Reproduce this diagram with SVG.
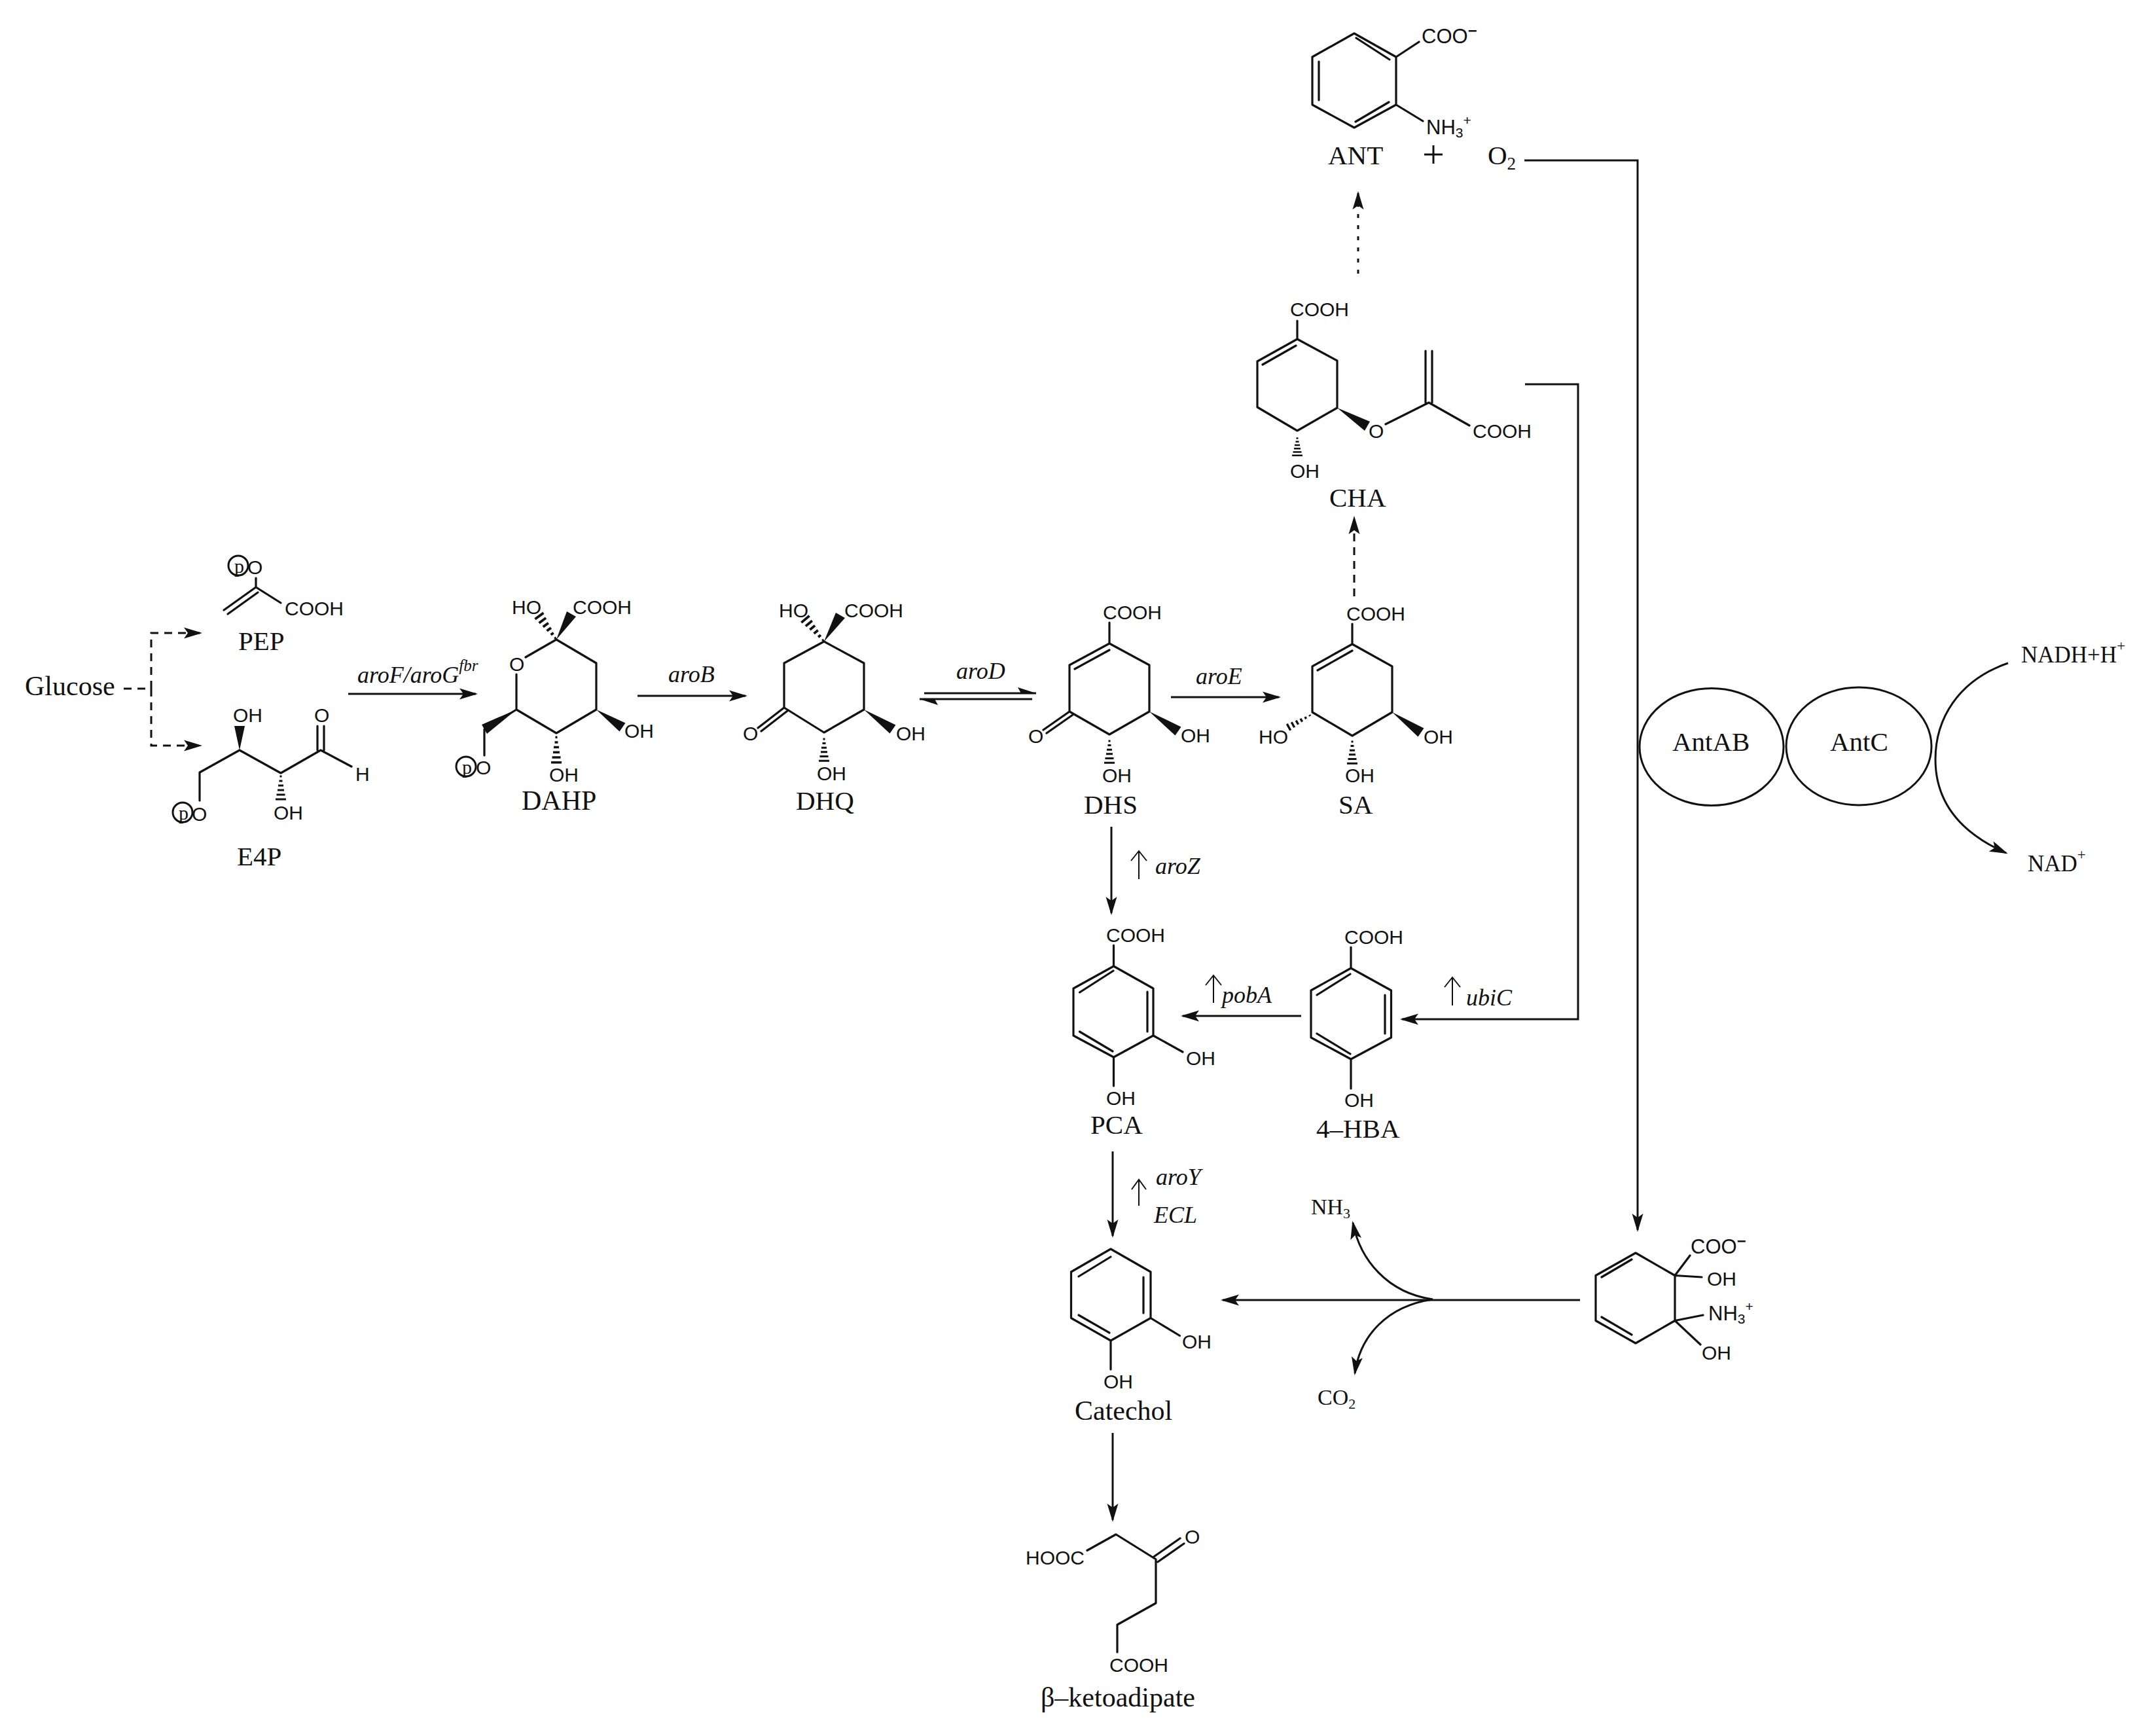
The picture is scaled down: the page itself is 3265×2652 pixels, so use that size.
<svg xmlns="http://www.w3.org/2000/svg" xmlns:xlink="http://www.w3.org/1999/xlink" width="3265" height="2652" viewBox="0 0 3265 2652">
<style>
text{fill:#111}
.c{font:30px "Liberation Sans",Arial,sans-serif}
.l{font:41px "Liberation Serif","Times New Roman",serif}
.m{font:34px "Liberation Serif","Times New Roman",serif}
.n{font:35px "Liberation Serif","Times New Roman",serif}
.e{font:italic 36px "Liberation Serif","Times New Roman",serif}
.p{font:30px "Liberation Serif","Times New Roman",serif}
.b{fill:none;stroke:#111;stroke-width:3.2;stroke-linecap:round;stroke-linejoin:round}
.w{fill:#111;stroke:none}
.a{fill:none;stroke:#111;stroke-width:3}
.d{stroke-dasharray:12 9}
.o{stroke-dasharray:6 11}
.u{fill:none;stroke:#111;stroke-width:2}
.r{fill:none;stroke:#111;stroke-width:3}
</style>
<defs>
<marker id="h" markerUnits="userSpaceOnUse" markerWidth="30" markerHeight="20" refX="25" refY="10" orient="auto"><path d="M28,10 L0,1.5 L6,10 L0,18.5 Z" fill="#111"/></marker>
<g id="hash" stroke="#111" stroke-width="3.2" fill="none"><path d="M-1.5,2H1.5M-2.5,9H2.5M-4,16H4M-5,23H5M-6.5,30H6.5M-8,37H8"/></g>
</defs>
<rect width="3265" height="2652" fill="#fff"/>

<g id="connectors">
<path class="a d" d="M189,1052H231M231,1052V967H306" marker-end="url(#h)"/>
<path class="a d" d="M231,1052V1139H306" marker-end="url(#h)"/>
<path class="a" d="M532,1060H727" marker-end="url(#h)"/>
<path class="a" d="M974,1063H1139" marker-end="url(#h)"/>
<path class="a" d="M1412,1059H1583M1405,1068H1577"/>
<path class="w" d="M1583,1059L1555,1050L1560,1059ZM1405,1068L1433,1077L1428,1068Z"/>
<path class="a" d="M1789,1065H1954" marker-end="url(#h)"/>
<path class="a d" d="M2069,911V791" marker-end="url(#h)"/>
<path class="a o" d="M2075,418V295" marker-end="url(#h)"/>
<path class="a" d="M2329,245H2502V1879" marker-end="url(#h)"/>
<path class="a" d="M2330,587H2411V1557H2142" marker-end="url(#h)"/>
<path class="a" d="M1698,1263V1395" marker-end="url(#h)"/>
<path class="a" d="M1988,1552H1807" marker-end="url(#h)"/>
<path class="a" d="M1700,1759V1888" marker-end="url(#h)"/>
<path class="a" d="M2414,1986H1868" marker-end="url(#h)"/>
<path class="a" d="M2189,1985C2120,1975 2078,1925 2067,1868" marker-end="url(#h)"/>
<path class="a" d="M2189,1985C2120,1995 2078,2040 2070,2098" marker-end="url(#h)"/>
<path class="a" d="M1700,2189V2322" marker-end="url(#h)"/>
<path class="a" d="M3068,1013C2990,1040 2957,1100 2957,1160C2957,1220 2990,1270 3065,1303" marker-end="url(#h)"/>
<path class="u" d="M1740,1343V1300M1728,1315L1740,1300L1752,1315"/>
<path class="u" d="M1854,1532V1490M1842,1505L1854,1490L1866,1505"/>
<path class="u" d="M2219,1536V1493M2207,1508L2219,1493L2231,1508"/>
<path class="u" d="M1740,1842V1802M1729,1817L1740,1802L1751,1817"/>
</g>

<g id="Glucose"><text class="l" x="38" y="1062" style="font-size:42px">Glucose</text></g>

<g id="PEP">
<circle class="r" cx="364" cy="864" r="15"/>
<text class="p" x="358" y="875">p</text>
<text class="c" x="378" y="877">O</text>
<path class="b" d="M391,883V897L429,921M391,897L342,932M394,905L348,938"/>
<text class="c" x="435" y="940">COOH</text>
<text class="l" x="364" y="993">PEP</text>
</g>

<g id="E4P">
<path class="b" d="M305,1223V1180L366,1146L429,1181L490,1146L537,1171M485,1146V1109M495,1146V1109"/>
<path class="w" d="M366,1146L358,1109L374,1109Z"/>
<use xlink:href="#hash" href="#hash" transform="translate(429 1184)"/>
<text class="c" x="356" y="1103">OH</text>
<text class="c" x="480" y="1103">O</text>
<text class="c" x="543" y="1193">H</text>
<circle class="r" cx="279" cy="1241" r="15"/>
<text class="p" x="273" y="1252">p</text>
<text class="c" x="293" y="1254">O</text>
<text class="c" x="418" y="1252">OH</text>
<text class="l" x="362" y="1322">E4P</text>
</g>

<g id="DAHP">
<path class="b" d="M803,1004L850,977L911,1013V1084L850,1120L789,1084V1030M789,1084L740,1114V1154"/>
<path class="w" d="M850,977L866,934L880,942ZM911,1084L946.5,1117.6L955.5,1104.4ZM789,1084L744,1121L736,1107Z"/>
<use xlink:href="#hash" href="#hash" transform="translate(850 977) rotate(144) scale(1 1.2)"/>
<use xlink:href="#hash" href="#hash" transform="translate(850 1124) scale(1 1.1)"/>
<text class="c" x="782" y="938">HO</text>
<text class="c" x="875" y="938">COOH</text>
<text class="c" x="778" y="1025">O</text>
<text class="c" x="954" y="1127">OH</text>
<text class="c" x="839" y="1194">OH</text>
<circle class="r" cx="712" cy="1171" r="15"/>
<text class="p" x="706" y="1182">p</text>
<text class="c" x="727" y="1183">O</text>
<text class="l" x="797" y="1237" style="font-size:42px">DAHP</text>
</g>

<g id="DHQ">
<path class="b" d="M1259,980L1198,1013V1081L1259,1119L1320,1084V1013ZM1198,1081L1158,1112M1203,1086L1163,1117"/>
<path class="w" d="M1259,980L1291,944L1277,936ZM1320,1084L1359.5,1120.6L1368.5,1107.4Z"/>
<use xlink:href="#hash" href="#hash" transform="translate(1259 980) rotate(140) scale(1 1.2)"/>
<use xlink:href="#hash" href="#hash" transform="translate(1259 1127) scale(1 .95)"/>
<text class="c" x="1190" y="943">HO</text>
<text class="c" x="1290" y="943">COOH</text>
<text class="c" x="1135" y="1131">O</text>
<text class="c" x="1369" y="1131">OH</text>
<text class="c" x="1248" y="1192">OH</text>
<text class="l" x="1216" y="1237">DHQ</text>
</g>

<g id="DHS">
<path class="b" d="M1695,951V983L1634,1016V1087L1695,1122L1756,1087V1016L1695,983M1695,993L1642,1022M1634,1087L1594,1115M1639,1092L1599,1120"/>
<path class="w" d="M1756,1087L1795.5,1123.6L1804.5,1110.4Z"/>
<use xlink:href="#hash" href="#hash" transform="translate(1695 1130) scale(1 .95)"/>
<text class="c" x="1685" y="946">COOH</text>
<text class="c" x="1571" y="1135">O</text>
<text class="c" x="1804" y="1134">OH</text>
<text class="c" x="1684" y="1195">OH</text>
<text class="l" x="1656" y="1243">DHS</text>
</g>

<g id="SA">
<path class="b" d="M2066,953V984L2005,1018V1088L2066,1124L2127,1088V1018L2066,984M2066,994L2013,1024"/>
<path class="w" d="M2127,1088L2166.5,1125.6L2175.5,1112.4Z"/>
<use xlink:href="#hash" href="#hash" transform="translate(2066 1131) scale(1 .95)"/>
<use xlink:href="#hash" href="#hash" transform="translate(2003 1092) rotate(61) scale(.7 1.05)"/>
<text class="c" x="2057" y="948">COOH</text>
<text class="c" x="1923" y="1136">HO</text>
<text class="c" x="2175" y="1136">OH</text>
<text class="c" x="2055" y="1195">OH</text>
<text class="l" x="2045" y="1243">SA</text>
</g>

<g id="CHA">
<path class="b" d="M1982,490V518L1921,552V622L1982,658L2043,623V551L1982,518M1980,528L1929,557M2117,648L2183,615L2245,650M2178,615V536M2188,615V536"/>
<path class="w" d="M2043,623L2085,658L2093,644Z"/>
<use xlink:href="#hash" href="#hash" transform="translate(1982 668) scale(1 .75)"/>
<text class="c" x="1971" y="483">COOH</text>
<text class="c" x="2091" y="669">O</text>
<text class="c" x="2250" y="669">COOH</text>
<text class="c" x="1971" y="730">OH</text>
<text class="l" x="2031" y="774">CHA</text>
</g>

<g id="ANT">
<path class="b" d="M2069,51L2133,87V160L2069,195L2005,160V87ZM2072,58L2123,91M2015,94V153M2071,186L2122,156M2133,87L2168,64M2133,160L2174,185"/>
<text class="c" x="2172" y="66" style="font-size:31px">COO<tspan font-size="24" font-weight="bold" dy="-11">−</tspan></text>
<text class="c" x="2179" y="205" style="font-size:31px">NH<tspan font-size="21" dy="5">3</tspan><tspan font-size="21" dy="-19">+</tspan></text>
<text class="l" x="2029" y="251">ANT</text>
</g>
<g id="plus"><path d="M2176,236H2204M2190,222V250" fill="none" stroke="#111" stroke-width="3"/></g>
<g id="O2"><text class="l" x="2273" y="251">O<tspan font-size="27" dy="8">2</tspan></text></g>

<g id="HBA">
<path class="b" d="M2064,1447V1479L2003,1513V1585L2064,1618L2125.5,1585V1513L2064,1479M2063,1488L2012,1520M2116,1520V1579M2012,1579L2063,1610M2064,1618V1663"/>
<text class="c" x="2054" y="1442">COOH</text>
<text class="c" x="2054" y="1691">OH</text>
<text class="l" x="2011" y="1738">4–HBA</text>
</g>

<g id="PCA">
<path class="b" d="M1701.5,1444V1476L1640,1510V1582L1701.5,1615L1762,1582V1510L1701.5,1476M1701,1483L1649.5,1516M1753,1515V1576M1649.5,1576L1700,1606M1762,1582L1807,1607M1701.5,1615V1659"/>
<text class="c" x="1690" y="1439">COOH</text>
<text class="c" x="1812" y="1627">OH</text>
<text class="c" x="1690" y="1688">OH</text>
<text class="l" x="1666" y="1732">PCA</text>
</g>

<g id="Catechol">
<path class="b" d="M1697,1908L1636.5,1943V2013.5L1697,2048L1758,2013.5V1943ZM1697,1920L1648,1950M1747,1951V2006M1648,2009L1695,2036M1758,2013.5L1802.5,2040.5M1697,2048V2092"/>
<text class="c" x="1806" y="2060">OH</text>
<text class="c" x="1686" y="2121">OH</text>
<text class="l" x="1642" y="2169" style="font-size:42px">Catechol</text>
</g>

<g id="ketoadipate">
<path class="b" d="M1661,2368.5L1705,2344L1766,2382V2449L1707,2482V2524M1763,2378L1803,2350M1769,2386L1809,2358"/>
<text class="c" x="1567" y="2390">HOOC</text>
<text class="c" x="1810" y="2358">O</text>
<text class="c" x="1695" y="2554">COOH</text>
<text class="l" x="1590" y="2607" style="font-size:42px">β–ketoadipate</text>
</g>

<g id="intermediate">
<path class="b" d="M2499,1914L2438,1948.5V2017.5L2499,2052L2559,2017.5V1948.5ZM2493,1924L2447,1951M2447,2012L2493,2039M2559,1948.5L2582,1918M2559,1948.5L2600,1951M2559,2017.5L2602,2009M2559,2017.5L2598,2054"/>
<text class="c" x="2583" y="1915" style="font-size:31px">COO<tspan font-size="24" font-weight="bold" dy="-11">−</tspan></text>
<text class="c" x="2608" y="1964">OH</text>
<text class="c" x="2610" y="2017" style="font-size:31px">NH<tspan font-size="21" dy="5">3</tspan><tspan font-size="21" dy="-19">+</tspan></text>
<text class="c" x="2600" y="2077">OH</text>
</g>

<g id="NH3"><text class="m" x="2003" y="1855">NH<tspan font-size="22" dy="6">3</tspan></text></g>
<g id="CO2"><text class="m" x="2013" y="2146">CO<tspan font-size="22" dy="6">2</tspan></text></g>

<g id="AntAB"><ellipse class="r" cx="2615" cy="1141" rx="110" ry="89.5"/><text class="l" x="2555" y="1147">AntAB</text></g>
<g id="AntC"><ellipse class="r" cx="2840" cy="1140" rx="111" ry="90"/><text class="l" x="2796" y="1147">AntC</text></g>
<g id="NADH"><text class="n" x="3088" y="1012">NADH+H<tspan font-size="23" dy="-18">+</tspan></text></g>
<g id="NAD"><text class="n" x="3098" y="1331">NAD<tspan font-size="23" dy="-18">+</tspan></text></g>

<g id="labels">
<text class="e" x="546" y="1043">aroF/aroG<tspan font-size="25" dy="-18">fbr</tspan></text>
<text class="e" x="1021" y="1042">aroB</text>
<text class="e" x="1461" y="1037">aroD</text>
<text class="e" x="1827" y="1045">aroE</text>
<text class="e" x="1765" y="1335">aroZ</text>
<text class="e" x="1867" y="1532">pobA</text>
<text class="e" x="2240" y="1536">ubiC</text>
<text class="e" x="1766" y="1810">aroY</text>
<text class="e" x="1763" y="1868">ECL</text>
</g>
</svg>
